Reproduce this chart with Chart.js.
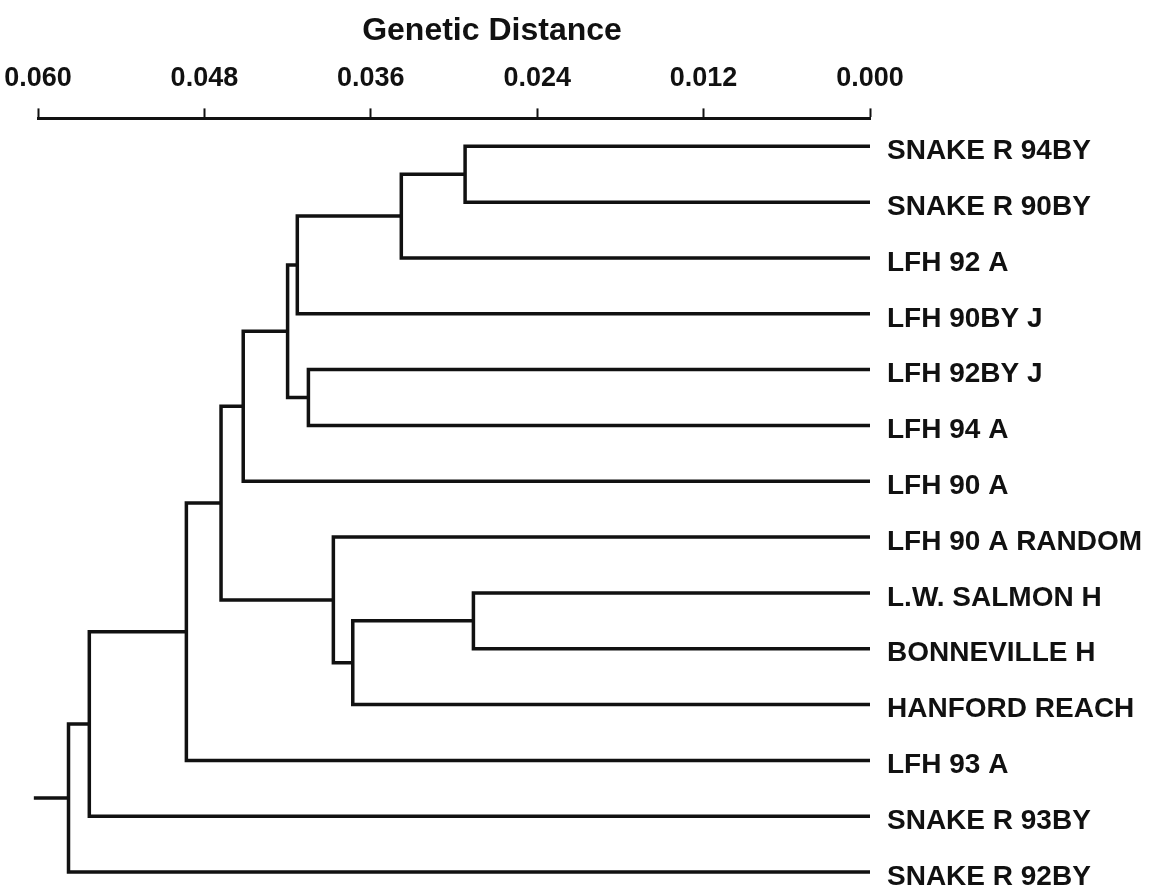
<!DOCTYPE html>
<html>
<head>
<meta charset="utf-8">
<title>Genetic Distance dendrogram</title>
<script src="https://cdn.jsdelivr.net/npm/chart.js@4/dist/chart.umd.min.js"></script>
<style>
  html, body { margin: 0; padding: 0; background: #ffffff; }
  #wrap { width: 1151px; height: 886px; position: relative; }
</style>
</head>
<body>
<div id="wrap"><canvas id="tree"></canvas></div>
<script>
// Leaves, top to bottom
const leafNames = [
  'SNAKE R 94BY', 'SNAKE R 90BY', 'LFH 92 A', 'LFH 90BY J', 'LFH 92BY J',
  'LFH 94 A', 'LFH 90 A', 'LFH 90 A RANDOM', 'L.W. SALMON H', 'BONNEVILLE H',
  'HANFORD REACH', 'LFH 93 A', 'SNAKE R 93BY', 'SNAKE R 92BY'
];

// Cluster joins: node ids 0..13 are leaves, each join creates node 14, 15, ...
const mergeLeft   = [0, 14, 15, 4, 16, 18, 8, 20, 7, 19, 23, 24, 25];
const mergeRight  = [1, 2, 3, 5, 17, 6, 9, 10, 21, 22, 11, 12, 13];
const mergeHeight = [0.0292, 0.0338, 0.0413, 0.0405, 0.0420, 0.0452,
                     0.0286, 0.0373, 0.0387, 0.0468, 0.0493, 0.0563, 0.0578];

// Root stem starts here
const rootStart = 0.0603;

// Distance axis ticks
const tickValues = [0.060, 0.048, 0.036, 0.024, 0.012, 0.000];

const INK = '#111111';
const FONT = "'Liberation Sans', Arial, sans-serif";

// Node heights and vertical positions
const nodeHeight = leafNames.map(() => 0);
const nodeY = leafNames.map((_, i) => i);
mergeHeight.forEach((h, k) => {
  nodeHeight.push(h);
  nodeY.push((nodeY[mergeLeft[k]] + nodeY[mergeRight[k]]) / 2);
});

// One bracket per join: left child -> join height -> right child
const datasets = mergeHeight.map((h, k) => {
  const a = mergeLeft[k], b = mergeRight[k];
  return {
    data: [
      { x: nodeHeight[a], y: nodeY[a] },
      { x: h, y: nodeY[a] },
      { x: h, y: nodeY[b] },
      { x: nodeHeight[b], y: nodeY[b] }
    ]
  };
});
const rootId = nodeHeight.length - 1;
datasets.push({
  data: [
    { x: rootStart, y: nodeY[rootId] },
    { x: nodeHeight[rootId], y: nodeY[rootId] }
  ]
});
datasets.forEach(d => Object.assign(d, {
  showLine: true, borderColor: INK, borderWidth: 3.5, pointRadius: 0,
  borderJoinStyle: 'miter', borderCapStyle: 'butt', clip: false, tension: 0
}));

// Heading above the distance axis
const headingPlugin = {
  id: 'heading',
  afterDraw(chart, args, opts) {
    const ctx = chart.ctx;
    ctx.save();
    ctx.fillStyle = INK;
    ctx.font = `bold ${opts.size}px ${FONT}`;
    ctx.textAlign = 'center';
    ctx.textBaseline = 'middle';
    ctx.fillText(opts.text, opts.x, opts.y);
    ctx.restore();
  }
};

// Let the plot area use the full box; end labels may overhang it
const noEdgePadding = s => {
  s.paddingLeft = 0; s.paddingRight = 0; s.paddingTop = 0; s.paddingBottom = 0;
};

new Chart(document.getElementById('tree'), {
  type: 'scatter',
  data: { datasets },
  plugins: [headingPlugin],
  options: {
    responsive: true,
    maintainAspectRatio: false,
    animation: false,
    events: [],
    layout: { padding: { left: 38, top: 48, right: 0, bottom: 0 } },
    plugins: {
      legend: { display: false },
      tooltip: { enabled: false },
      heading: { text: 'Genetic Distance', x: 492, y: 31, size: 32 }
    },
    scales: {
      x: {
        type: 'linear',
        position: 'top',
        reverse: true,
        min: 0,
        max: 0.06,
        afterBuildTicks: s => { s.ticks = tickValues.map(v => ({ value: v })); },
        afterFit: noEdgePadding,
        ticks: {
          color: INK,
          font: { family: FONT, size: 27, weight: 'bold' },
          padding: 14,
          maxRotation: 0,
          autoSkip: false,
          callback: v => Number(v).toFixed(3)
        },
        grid: {
          drawOnChartArea: false,
          drawTicks: true,
          tickLength: 10,
          tickWidth: 2,
          tickColor: INK
        },
        border: { display: true, color: INK, width: 3 }
      },
      y: {
        type: 'linear',
        position: 'right',
        reverse: true,
        min: -0.5,
        max: 13.25,
        afterBuildTicks: s => { s.ticks = leafNames.map((_, i) => ({ value: i })); },
        afterFit: s => { s.width = 281; noEdgePadding(s); },
        ticks: {
          color: INK,
          font: { family: FONT, size: 28, weight: 'bold' },
          padding: 17,
          labelOffset: 5,
          autoSkip: false,
          callback: v => leafNames[v]
        },
        grid: { display: false, drawTicks: false },
        border: { display: false }
      }
    }
  }
});
</script>
</body>
</html>
